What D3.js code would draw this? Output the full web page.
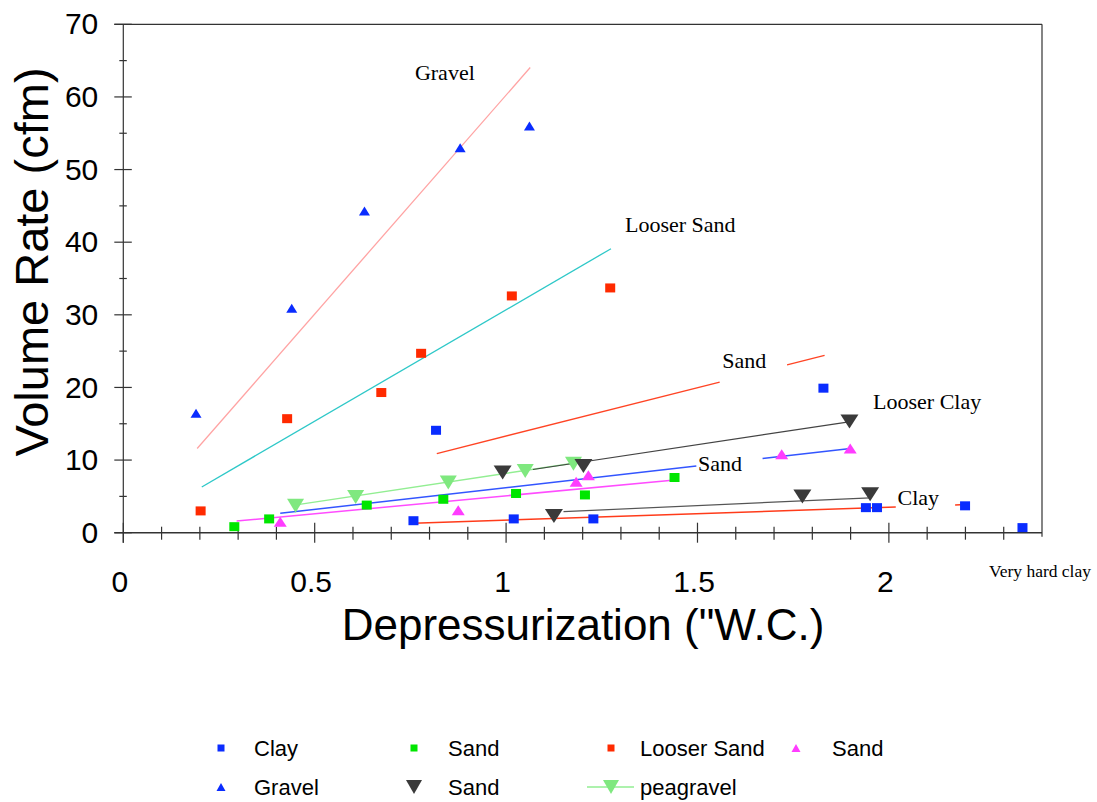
<!DOCTYPE html>
<html>
<head>
<meta charset="utf-8">
<script src="https://cdn.jsdelivr.net/npm/d3@7"></script>
<style>
  body { margin: 0; background: #fff; }
  svg { display: block; }
  .tick text { font-family: "Liberation Sans", Arial, sans-serif; }
</style>
</head>
<body>
<div id="chart"></div>
<script>
'use strict';

// data (x = "W.C., y = cfm)
const clayPts        = [[0.758, 1.65], [1.02, 1.9], [1.228, 1.9], [0.817, 14.1], [1.829, 19.9],
                        [1.94, 3.45], [1.969, 3.45], [2.199, 3.7], [2.349, 0.7]];
const gravelPts      = [[0.19, 16.45], [0.44, 30.9], [0.63, 44.3], [0.88, 53.0], [1.061, 56.0]];
const sandGreenPts   = [[0.29, 0.83], [0.381, 1.9], [0.636, 3.8], [0.836, 4.6], [1.026, 5.4],
                        [1.206, 5.2], [1.44, 7.6]];
const looserSandPts  = [[0.202, 3.0], [0.428, 15.7], [0.674, 19.3], [0.778, 24.7], [1.015, 32.6], [1.272, 33.7]];
const sandPinkPts    = [[0.41, 1.5], [0.875, 3.1], [1.183, 7.0], [1.215, 7.9], [1.72, 10.8], [1.899, 11.6]];
const sandBlackPts   = [[0.991, 8.3], [1.202, 9.2], [1.125, 2.3], [1.774, 5.0], [1.951, 5.3], [1.897, 15.3]];
const peagravelPts   = [[0.45, 3.7], [0.607, 4.9], [0.849, 6.9], [1.05, 8.5], [1.176, 9.5]];

// fitted lines: [x0, y0, x1, y1], optional gap where a label sits
const gravelFit      = [0.193, 11.6, 1.063, 64.05];
const looserSandFit  = [0.205, 6.3, 1.274, 39.1];
const sandUpperFit   = [0.819, 10.9, 1.832, 24.4];
const sandUpperGap   = [1.558, 1.734];
const looserClayFit  = [1.07, 8.7, 1.9, 15.3];
const sandBlueFit    = [0.41, 2.67, 1.9, 11.6];
const sandBlueGap    = [1.497, 1.67];
const sandPinkFit    = [0.296, 1.6, 1.441, 7.26];
const peagravelFit   = [0.46, 3.9, 1.18, 9.6];
const clayGrayFit    = [1.15, 2.9, 1.951, 4.8];
const clayRedFit     = [0.758, 1.3, 2.199, 3.87];
const clayRedGap     = [2.018, 2.173];

// annotations placed in data units
const noteLabels = [
  ['Gravel', 0.84, 63.4],
  ['Looser Sand', 1.455, 42.4],
  ['Sand', 1.622, 23.8],
  ['Looser Clay', 2.1, 18.1],
  ['Sand', 1.559, 9.6],
  ['Clay', 2.077, 4.9]
];

const xMajor = [0, 0.5, 1, 1.5, 2];
const yMajor = [0, 10, 20, 30, 40, 50, 60, 70];

const W = 1097, H = 802;
const margin = {top: 24.3, right: 55, bottom: 269.3, left: 123.3};

const x = d3.scaleLinear().domain([0, 2.4]).range([margin.left, W - margin.right]);
const y = d3.scaleLinear().domain([0, 70]).range([H - margin.bottom, margin.top]);

const svg = d3.select('#chart').append('svg')
  .attr('width', W).attr('height', H)
  .style('background', '#fff');

const axisColor = '#333';

// frame: top + right border
svg.append('line')
  .attr('x1', x(0) - 9).attr('x2', x(2.4))
  .attr('y1', y(70)).attr('y2', y(70))
  .attr('stroke', axisColor).attr('stroke-width', 1.2);
svg.append('line')
  .attr('x1', x(2.4)).attr('x2', x(2.4))
  .attr('y1', y(70)).attr('y2', y(0) + 4)
  .attr('stroke', axisColor).attr('stroke-width', 1.2);

// x axis
const xAxis = svg.append('g')
  .attr('transform', `translate(0,${y(0)})`)
  .call(d3.axisBottom(x).tickValues(xMajor).tickSize(0).tickPadding(38).tickFormat(d3.format('')));
xAxis.select('.domain').remove();
xAxis.selectAll('text').style('font-size', '30px').attr('fill', '#000').attr('dx', '-4');

svg.append('line')
  .attr('x1', x(0) - 9).attr('x2', x(2.4))
  .attr('y1', y(0)).attr('y2', y(0))
  .attr('stroke', axisColor).attr('stroke-width', 1.5);

const xMinor = d3.range(1, 24).map(d => d / 10).filter(d => Math.abs(d * 2 - Math.round(d * 2)) > 1e-6);
svg.append('g').selectAll('line').data(xMinor).enter().append('line')
  .attr('x1', d => x(d)).attr('x2', d => x(d))
  .attr('y1', y(0) - 6).attr('y2', y(0) + 7)
  .attr('stroke', axisColor).attr('stroke-width', 1.2);
svg.append('g').selectAll('line').data(xMajor).enter().append('line')
  .attr('x1', d => x(d)).attr('x2', d => x(d))
  .attr('y1', y(0) - 10).attr('y2', y(0) + 10)
  .attr('stroke', axisColor).attr('stroke-width', 1.2);

// y axis
const yAxis = svg.append('g')
  .attr('transform', `translate(${x(0)},0)`)
  .call(d3.axisLeft(y).tickValues(yMajor).tickSize(0).tickPadding(25));
yAxis.select('.domain').remove();
yAxis.selectAll('text').style('font-size', '30px').attr('fill', '#000');

svg.append('line')
  .attr('x1', x(0)).attr('x2', x(0))
  .attr('y1', y(70)).attr('y2', y(0) + 10)
  .attr('stroke', axisColor).attr('stroke-width', 1.2);

const yMinor = d3.range(5, 70, 10);
svg.append('g').selectAll('line').data(yMinor).enter().append('line')
  .attr('x1', x(0) - 4).attr('x2', x(0) + 3.5)
  .attr('y1', d => y(d)).attr('y2', d => y(d))
  .attr('stroke', axisColor).attr('stroke-width', 1.2);
svg.append('g').selectAll('line').data(yMajor).enter().append('line')
  .attr('x1', x(0) - 9).attr('x2', x(0) + 8.5)
  .attr('y1', d => y(d)).attr('y2', d => y(d))
  .attr('stroke', axisColor).attr('stroke-width', 1.2);

// axis titles
svg.append('text')
  .attr('x', 583).attr('y', 640)
  .attr('text-anchor', 'middle')
  .style('font-family', '"Liberation Sans", Arial, sans-serif')
  .style('font-size', '44px')
  .text('Depressurization ("W.C.)');

svg.append('text')
  .attr('transform', 'translate(48,262) rotate(-90)')
  .attr('text-anchor', 'middle')
  .style('font-family', '"Liberation Sans", Arial, sans-serif')
  .style('font-size', '47px')
  .text('Volume Rate (cfm)');

// fitted lines
function fitSegments(fit, gap) {
  const [x0, y0, x1, y1] = fit;
  const at = xv => y0 + (y1 - y0) * (xv - x0) / (x1 - x0);
  if (!gap) return [[[x0, y0], [x1, y1]]];
  return [[[x0, y0], [gap[0], at(gap[0])]], [[gap[1], at(gap[1])], [x1, y1]]];
}

const fits = [
  {fit: gravelFit, color: '#ffa3a3', w: 1.3},
  {fit: looserSandFit, color: '#2ec8c8', w: 1.3},
  {fit: sandUpperFit, gap: sandUpperGap, color: '#ff4424', w: 1.3},
  {fit: peagravelFit, color: '#92ee92', w: 1.5},
  {fit: looserClayFit, color: '#444', w: 1.2},
  {fit: sandBlueFit, gap: sandBlueGap, color: '#3355ff', w: 1.5},
  {fit: sandPinkFit, color: '#ff4cff', w: 1.5},
  {fit: clayGrayFit, color: '#555', w: 1.2},
  {fit: clayRedFit, gap: clayRedGap, color: '#ff3b1a', w: 1.5}
];

const lineGen = d3.line().x(d => x(d[0])).y(d => y(d[1]));
const lg = svg.append('g').attr('class', 'fits');
fits.forEach(f => {
  fitSegments(f.fit, f.gap).forEach(seg => {
    lg.append('path')
      .attr('d', lineGen(seg))
      .attr('fill', 'none')
      .attr('stroke', f.color)
      .attr('stroke-width', f.w);
  });
});

// marker shapes
function triPath(w, h, down) {
  const s = down ? -1 : 1;
  return `M${-w / 2},${s * h / 2}L${w / 2},${s * h / 2}L0,${-s * h / 2}Z`;
}

function drawSeries(pts, kind, color, w, h) {
  const g = svg.append('g');
  if (kind === 'square') {
    g.selectAll('rect').data(pts).enter().append('rect')
      .attr('x', d => x(d[0]) - w / 2)
      .attr('y', d => y(d[1]) - h / 2)
      .attr('width', w).attr('height', h)
      .attr('fill', color);
  } else {
    g.selectAll('path').data(pts).enter().append('path')
      .attr('transform', d => `translate(${x(d[0])},${y(d[1])})`)
      .attr('d', triPath(w, h, kind === 'down'))
      .attr('fill', color);
  }
}

drawSeries(peagravelPts, 'down', '#7fe87f', 17, 14);
drawSeries(sandBlackPts, 'down', '#3a3a3a', 18, 14);
drawSeries(sandPinkPts, 'up', '#ff3cff', 13, 10);
drawSeries(sandGreenPts, 'square', '#00e600', 10, 9);
drawSeries(looserSandPts, 'square', '#ff2a00', 10, 9);
drawSeries(gravelPts, 'up', '#0a2cff', 11, 9);
drawSeries(clayPts, 'square', '#0a2cff', 10, 9);

// annotations
const serif = '"Liberation Serif", "Times New Roman", serif';
svg.append('g').selectAll('text').data(noteLabels).enter().append('text')
  .attr('x', d => x(d[1])).attr('y', d => y(d[2]))
  .attr('text-anchor', 'middle')
  .attr('dy', '0.35em')
  .style('font-family', serif)
  .style('font-size', '22px')
  .text(d => d[0]);

svg.append('text')
  .attr('x', 1040).attr('y', 577)
  .attr('text-anchor', 'middle')
  .style('font-family', serif)
  .style('font-size', '17.5px')
  .text('Very hard clay');

// legend
const legendItems = [
  {name: 'Clay', kind: 'square', color: '#0a2cff', col: 0, row: 0},
  {name: 'Sand', kind: 'square', color: '#00e600', col: 1, row: 0},
  {name: 'Looser Sand', kind: 'square', color: '#ff2a00', col: 2, row: 0},
  {name: 'Sand', kind: 'up', color: '#ff3cff', col: 3, row: 0},
  {name: 'Gravel', kind: 'up', color: '#0a2cff', col: 0, row: 1},
  {name: 'Sand', kind: 'down', color: '#3a3a3a', col: 1, row: 1},
  {name: 'peagravel', kind: 'down', color: '#7fe87f', col: 2, row: 1, line: '#92ee92'}
];
const colMarker = [221, 414, 611, 796];
const colText = [254, 448, 640, 832];
const rowY = [748, 787];

const leg = svg.append('g').attr('class', 'legend');
legendItems.forEach(it => {
  const mx = colMarker[it.col], my = rowY[it.row];
  if (it.line) {
    leg.append('line')
      .attr('x1', mx - 24).attr('x2', mx + 23)
      .attr('y1', my).attr('y2', my)
      .attr('stroke', it.line).attr('stroke-width', 1.5);
  }
  if (it.kind === 'square') {
    leg.append('rect')
      .attr('x', mx - 3.5).attr('y', my - 3.5)
      .attr('width', 7).attr('height', 7)
      .attr('fill', it.color);
  } else {
    const big = it.kind === 'down';
    leg.append('path')
      .attr('transform', `translate(${mx},${my})`)
      .attr('d', triPath(big ? 16 : 9, big ? 14 : 8, big))
      .attr('fill', it.color);
  }
  leg.append('text')
    .attr('x', colText[it.col]).attr('y', my)
    .attr('dy', '0.35em')
    .style('font-family', '"Liberation Sans", Arial, sans-serif')
    .style('font-size', '22px')
    .text(it.name);
});
</script>
</body>
</html>
